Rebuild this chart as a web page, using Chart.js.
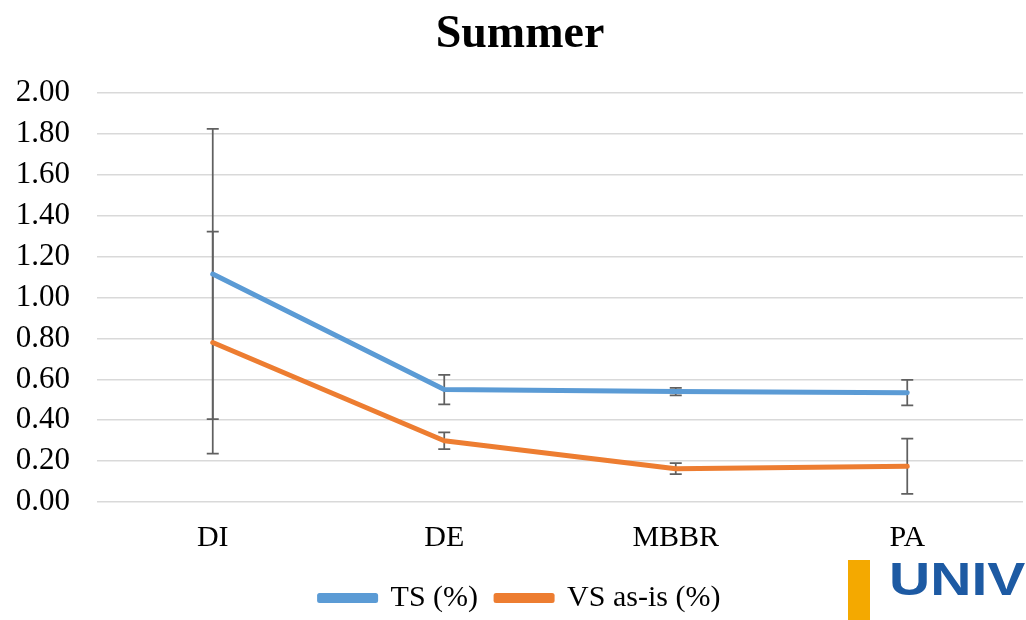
<!DOCTYPE html>
<html>
<head>
<meta charset="utf-8">
<script src="https://cdn.jsdelivr.net/npm/chart.js@4/dist/chart.umd.min.js"></script>
<style>
  html, body { margin: 0; padding: 0; background: #ffffff; overflow: hidden; }
  #wrap { position: relative; width: 1026px; height: 620px; overflow: hidden; }
  #chart { position: absolute; left: 0; top: 0; }
  .brand-bar { position: absolute; left: 848px; top: 560px; width: 22px; height: 60px; background: #f4a900; }
  .brand-text { position: absolute; left: 889px; top: 556px; font-family: "Liberation Sans", Arial, sans-serif;
                font-weight: bold; font-size: 46px; line-height: 46px; color: #1d5aa3; white-space: nowrap;
                transform: scaleX(1.24); transform-origin: 0 0; }
</style>
</head>
<body>
<div id="wrap">
  <canvas id="chart" width="1026" height="620"></canvas>
  <div class="brand-bar"></div>
  <div class="brand-text">UNIV</div>
</div>
<script>
// Treatment stages on the x axis
const categories = ['DI', 'DE', 'MBBR', 'PA'];
// Mean solids content per stage and its deviation (error bar half-length)
const tsValues = [1.115, 0.55, 0.54, 0.535];
const tsErrors = [0.71, 0.072, 0.018, 0.062];
const vsValues = [0.78, 0.30, 0.163, 0.175];
const vsErrors = [0.543, 0.041, 0.027, 0.135];
// Value axis ticks
const yTicks = [0, 0.2, 0.4, 0.6, 0.8, 1.0, 1.2, 1.4, 1.6, 1.8, 2.0];

const serif = "'Liberation Serif', 'Times New Roman', serif";

// Vertical error bars with end caps, placed through the chart's scales
const errorBars = {
  id: 'errorBars',
  beforeDatasetsDraw(chart) {
    const { ctx, scales: { x, y } } = chart;
    ctx.save();
    ctx.strokeStyle = '#606060';
    ctx.lineWidth = 1.75;
    ctx.lineCap = 'butt';
    chart.data.datasets.forEach(ds => {
      ds.errors.forEach((err, i) => {
        const px = x.getPixelForValue(i);
        const top = y.getPixelForValue(ds.data[i] + err);
        const bot = y.getPixelForValue(ds.data[i] - err);
        const cap = 6;
        ctx.beginPath();
        ctx.moveTo(px, top); ctx.lineTo(px, bot);
        ctx.moveTo(px - cap, top); ctx.lineTo(px + cap, top);
        ctx.moveTo(px - cap, bot); ctx.lineTo(px + cap, bot);
        ctx.stroke();
      });
    });
    ctx.restore();
  }
};

new Chart(document.getElementById('chart'), {
  type: 'line',
  data: {
    labels: categories,
    datasets: [
      { label: 'TS (%)', data: tsValues, errors: tsErrors, borderColor: '#5b9bd5', backgroundColor: '#5b9bd5',
        borderWidth: 5, pointRadius: 0, tension: 0, borderCapStyle: 'round', borderJoinStyle: 'round' },
      { label: 'VS as-is (%)', data: vsValues, errors: vsErrors, borderColor: '#ed7d31', backgroundColor: '#ed7d31',
        borderWidth: 5, pointRadius: 0, tension: 0, borderCapStyle: 'round', borderJoinStyle: 'round' }
    ]
  },
  options: {
    responsive: false,
    animation: false,
    layout: { padding: { left: 17, right: 3, top: 0, bottom: 0 } },
    plugins: {
      title: {
        display: true, text: 'Summer', color: '#000000',
        font: { family: serif, size: 46, weight: 'bold' },
        padding: { top: 8, bottom: 30 }
      },
      legend: {
        position: 'bottom',
        maxHeight: 55,
        labels: {
          color: '#000000', font: { family: serif, size: 30 },
          boxWidth: 56, boxHeight: 5, padding: 18
        }
      },
      tooltip: { enabled: false }
    },
    scales: {
      x: {
        offset: true,
        grid: { display: false, drawTicks: false },
        border: { display: false },
        ticks: { color: '#000000', font: { family: serif, size: 30 }, padding: 18, maxRotation: 0 },
        afterFit(scale) { scale.height = 63; }
      },
      y: {
        min: 0, max: 2,
        grid: { color: '#d9d9d9', lineWidth: 1.5, drawTicks: false },
        border: { display: false },
        afterBuildTicks(scale) { scale.ticks = yTicks.map(v => ({ value: v })); },
        ticks: {
          color: '#000000', font: { family: serif, size: 31 }, padding: 27,
          callback: v => Number(v).toFixed(2)
        },
        afterFit(scale) { scale.width = 80; }
      }
    }
  },
  plugins: [errorBars]
});
</script>
</body>
</html>
